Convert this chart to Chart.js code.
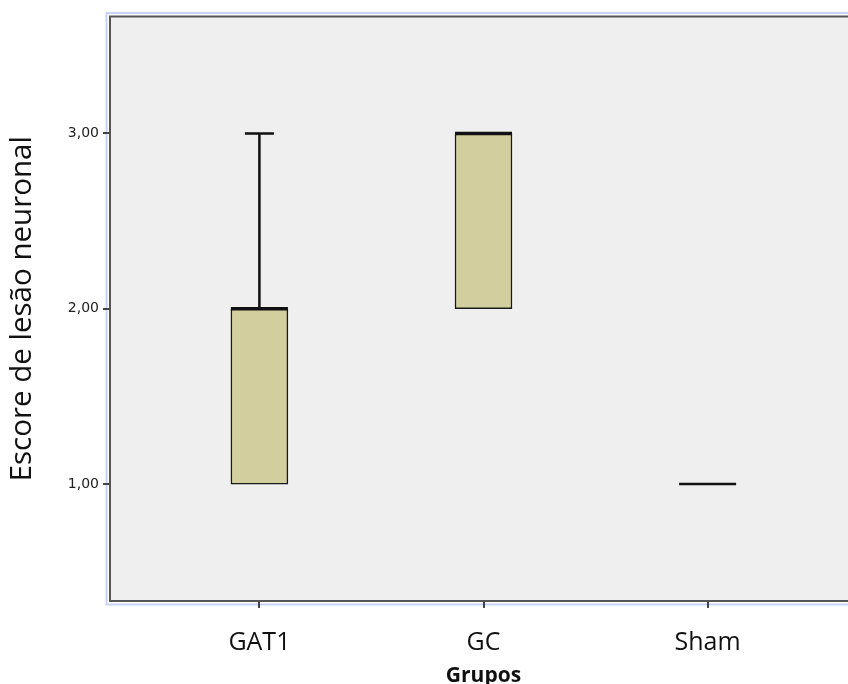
<!DOCTYPE html>
<html>
<head>
<meta charset="utf-8">
<script src="https://cdn.jsdelivr.net/npm/chart.js@4"></script>
<style>
  html, body { margin: 0; padding: 0; background: #fff; overflow: hidden; }
  #wrap { width: 848px; height: 684px; overflow: hidden; }
</style>
</head>
<body>
<div id="wrap"><canvas id="boxChart" width="880" height="684"></canvas></div>
<script>
// dados do boxplot (escore de lesao neuronal por grupo)
const grupos = ['GAT1', 'GC', 'Sham'];
const minimo = [1, 2, 1];
const q1 = [1, 2, 1];
const mediana = [2, 3, 1];
const q3 = [2, 3, 1];
const maximo = [3, 3, 1];
const yTicks = [1, 2, 3];

const corCaixa = 'rgb(211, 206, 158)';

// fundo cinza e moldura da area do grafico
const moldura = {
  id: 'moldura',
  beforeDraw(chart) {
    const {ctx, chartArea: a} = chart;
    ctx.save();
    ctx.fillStyle = '#ffffff';
    ctx.fillRect(0, 0, chart.width, chart.height);
    ctx.strokeStyle = '#c6d3f7';
    ctx.lineWidth = 2;
    ctx.strokeRect(a.left - 3.5, a.top - 3.5, a.right - a.left + 7, a.bottom - a.top + 7);
    ctx.fillStyle = '#efefef';
    ctx.fillRect(a.left, a.top, a.right - a.left, a.bottom - a.top);
    ctx.restore();
  },
  afterDraw(chart) {
    const {ctx, chartArea: a} = chart;
    ctx.save();
    ctx.strokeStyle = '#555555';
    ctx.lineWidth = 2;
    ctx.strokeRect(a.left, a.top, a.right - a.left, a.bottom - a.top);
    ctx.restore();
  }
};

// bigodes e medianas
const bigodes = {
  id: 'bigodes',
  afterDatasetsDraw(chart) {
    const {ctx, scales: {x, y}} = chart;
    ctx.save();
    ctx.strokeStyle = '#111111';
    grupos.forEach((g, i) => {
      const cx = x.getPixelForValue(i);
      // bigode superior
      if (maximo[i] > q3[i]) {
        ctx.lineWidth = 2.5;
        ctx.beginPath();
        ctx.moveTo(cx, y.getPixelForValue(q3[i]));
        ctx.lineTo(cx, y.getPixelForValue(maximo[i]));
        ctx.moveTo(cx - 14.5, y.getPixelForValue(maximo[i]));
        ctx.lineTo(cx + 14.5, y.getPixelForValue(maximo[i]));
        ctx.stroke();
      }
      // bigode inferior
      if (minimo[i] < q1[i]) {
        ctx.lineWidth = 2.5;
        ctx.beginPath();
        ctx.moveTo(cx, y.getPixelForValue(q1[i]));
        ctx.lineTo(cx, y.getPixelForValue(minimo[i]));
        ctx.moveTo(cx - 14.5, y.getPixelForValue(minimo[i]));
        ctx.lineTo(cx + 14.5, y.getPixelForValue(minimo[i]));
        ctx.stroke();
      }
      // mediana
      const my = y.getPixelForValue(mediana[i]);
      ctx.lineWidth = (q1[i] === q3[i]) ? 2.5 : 3.5;
      ctx.beginPath();
      ctx.moveTo(cx - 28.5, my);
      ctx.lineTo(cx + 28.5, my);
      ctx.stroke();
    });
    ctx.restore();
  }
};

const ctx = document.getElementById('boxChart').getContext('2d');
const myChart = new Chart(ctx, {
  type: 'bar',
  data: {
    datasets: [{
      data: grupos.map((g, i) => ({x: i, y: [q1[i], q3[i]]})),
      backgroundColor: corCaixa,
      borderColor: '#1a1a1a',
      borderWidth: 1.5,
      borderSkipped: false,
      barThickness: 57
    }]
  },
  options: {
    responsive: false,
    animation: false,
    layout: { padding: { top: 16.5, right: 23, left: 0, bottom: 0 } },
    plugins: { legend: { display: false }, tooltip: { enabled: false } },
    scales: {
      x: {
        type: 'linear',
        offset: false,
        min: -2 / 3,
        max: 8 / 3,
        afterBuildTicks: s => { s.ticks = grupos.map((g, i) => ({value: i})); },
        afterFit: s => { s.height = 83; },
        ticks: {
          callback: v => grupos[v],
          color: '#111111',
          font: { family: 'Open Sans', size: 25 },
          padding: 20,
          maxRotation: 0
        },
        grid: { offset: false, drawOnChartArea: false, drawTicks: true, tickLength: 7, color: '#444444', lineWidth: 2 },
        border: { display: false },
        title: {
          display: true,
          text: 'Grupos',
          color: '#111111',
          font: { family: 'Open Sans', size: 21, weight: 'bold', lineHeight: 0.8 },
          padding: { top: 0, bottom: 0 }
        }
      },
      y: {
        min: 1 / 3,
        max: 11 / 3,
        afterBuildTicks: s => { s.ticks = yTicks.map(v => ({value: v})); },
        afterFit: s => { s.width = 110; },
        ticks: {
          callback: v => v.toFixed(2).replace('.', ','),
          color: '#222222',
          font: { family: 'DejaVu Sans', size: 14 },
          padding: 4
        },
        grid: { drawOnChartArea: false, drawTicks: true, tickLength: 7, color: '#444444', lineWidth: 2 },
        border: { display: false },
        title: {
          display: true,
          text: 'Escore de lesão neuronal',
          color: '#111111',
          font: { family: 'Open Sans', size: 29.5, lineHeight: 1.2 },
          padding: { top: 5, bottom: 0 }
        }
      }
    }
  },
  plugins: [moldura, bigodes]
});
</script>
</body>
</html>
